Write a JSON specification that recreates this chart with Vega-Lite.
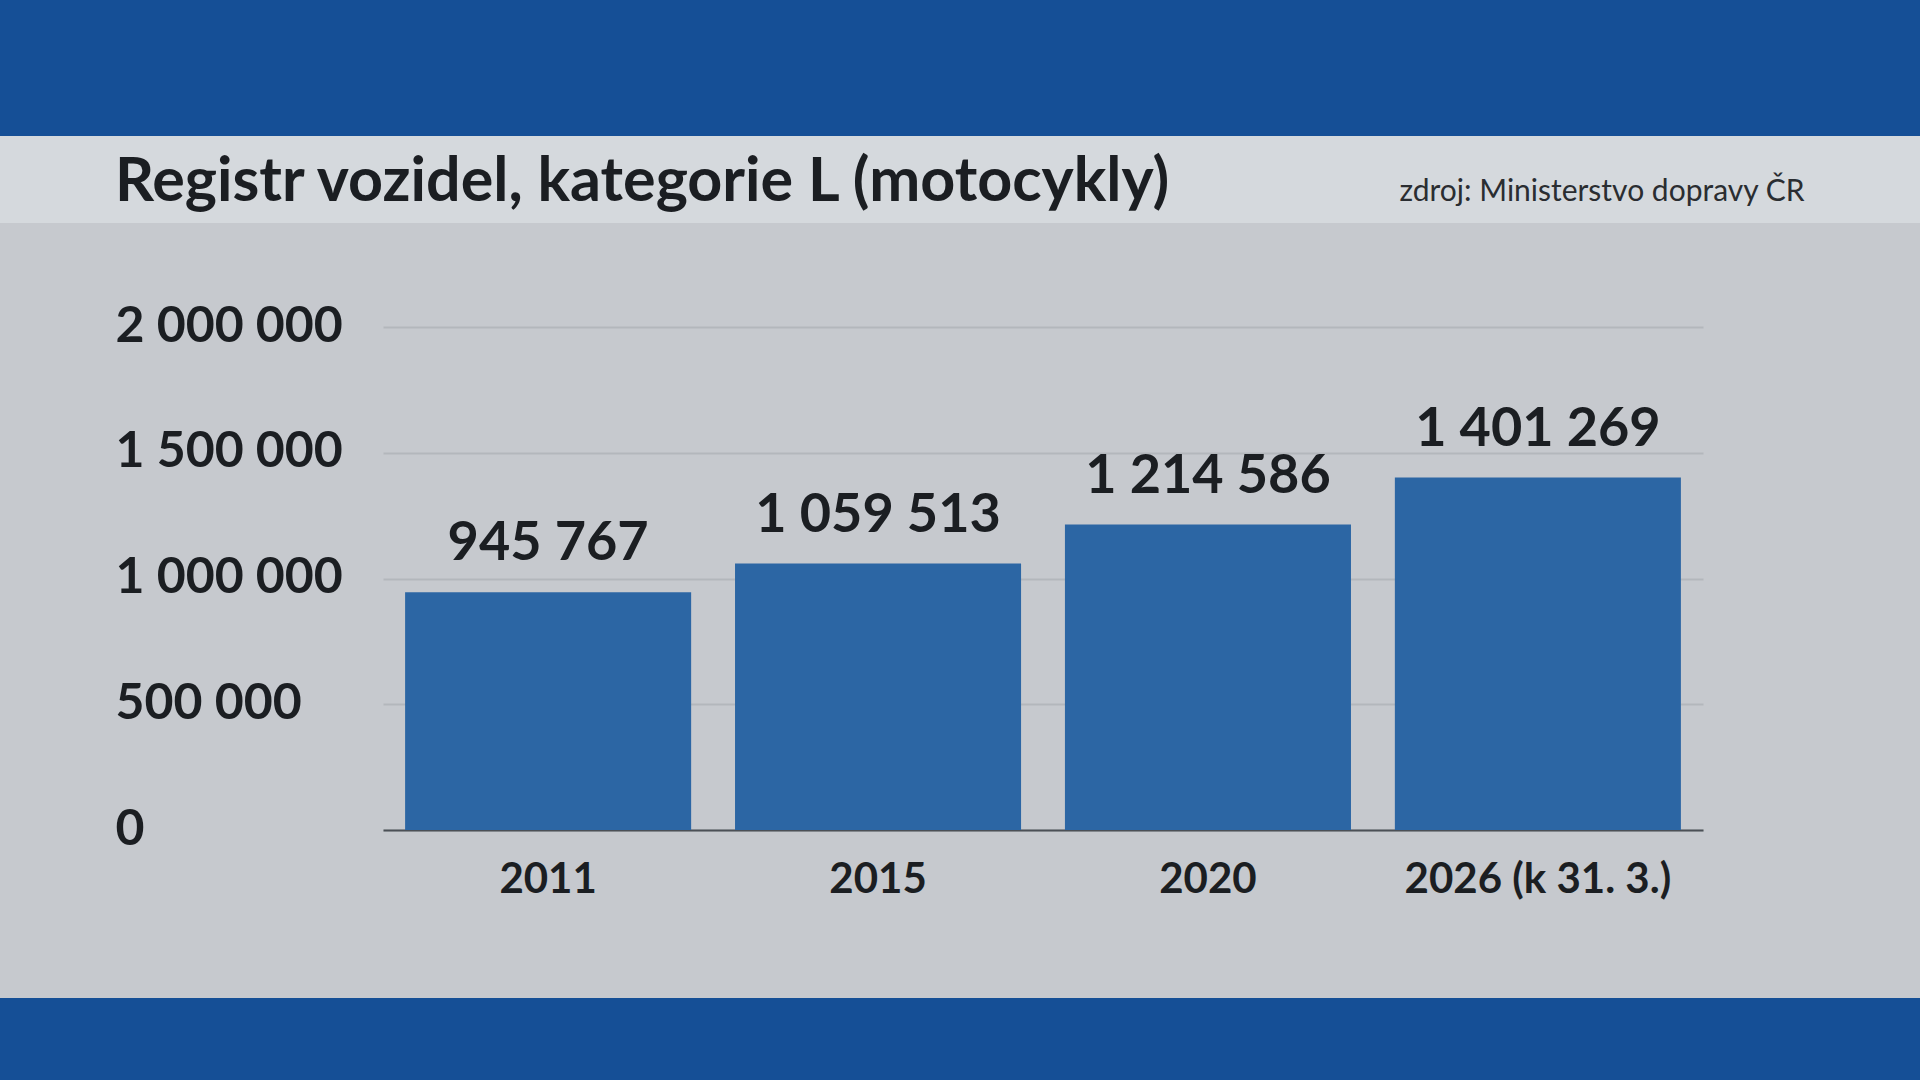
{
  "$schema": "https://vega.github.io/schema/vega-lite/v6.json",
  "background": "#c6c9ce",
  "padding": 0,
  "spacing": 0,
  "bounds": "flush",
  "config": {
    "view": {"stroke": null},
    "locale": {"number": {"decimal": ",", "thousands": " ", "grouping": [3], "currency": ["", " Kč"]}},
    "font": "Lato"
  },
  "vconcat": [
    {
      "width": 1920, "height": 136,
      "view": {"fill": "#154f96", "stroke": null},
      "data": {"values": []},
      "mark": {"type": "point", "opacity": 0}
    },
    {
      "width": 1920, "height": 87,
      "view": {"fill": "#d5d9dd", "stroke": null},
      "title": {"text": "Registr vozidel, kategorie L (motocykly)", "orient": "top", "anchor": "start", "frame": "group", "offset": -126, "baseline": "alphabetic", "dx": 115, "font": "Lato", "fontSize": 61, "fontWeight": "bold", "color": "#1b1e22"},
      "data": {"values": []},
      "mark": {"type": "point", "opacity": 0}
    },
    {
      "width": 1920, "height": 104,
      "data": {"values": []},
      "mark": {"type": "point", "opacity": 0}
    },
    {
      "width": 1920, "height": 503,
      "data": {"values": [
        {"rok": "2011", "pocet": 945767},
        {"rok": "2015", "pocet": 1059513},
        {"rok": "2020", "pocet": 1214586},
        {"rok": "2026 (k 31. 3.)", "pocet": 1401269}
      ]},
      "encoding": {
        "x": {
          "field": "rok", "type": "nominal", "sort": null,
          "scale": {"range": [383, 1703], "paddingInner": 0.133, "paddingOuter": 0.067},
          "axis": {
            "title": "zdroj: Ministerstvo dopravy ČR",
            "titleX": 1804, "titleY": -630, "titleAlign": "right", "titleBaseline": "alphabetic",
            "titleFont": "Lato", "titleFontSize": 30, "titleFontWeight": "normal", "titleColor": "#2a2d31",
            "labelAngle": 0, "ticks": false, "tickSize": 0,
            "labelPadding": 62, "labelBaseline": "alphabetic", "labelLimit": 0,
            "labelFont": "Lato", "labelFontSize": 42, "labelFontWeight": "bold", "labelColor": "#1b1e22",
            "domain": true, "domainColor": "#4b5056", "domainWidth": 2, "grid": false
          }
        },
        "y": {
          "field": "pocet", "type": "quantitative",
          "scale": {"domain": [0, 2000000], "nice": false},
          "axis": {
            "title": null, "values": [0, 500000, 1000000, 1500000, 2000000], "format": ",d",
            "offset": -383,
            "ticks": false, "tickSize": 0, "domain": false,
            "labelAlign": "left", "labelPadding": 268, "labelBaseline": "alphabetic", "labelOffset": 14, "labelLimit": 0,
            "labelFont": "Lato", "labelFontSize": 50, "labelFontWeight": "bold", "labelColor": "#1b1e22",
            "grid": true, "gridColor": "#b3b7bc", "gridWidth": 2
          }
        }
      },
      "layer": [
        {"mark": {"type": "bar", "color": "#2c66a4"}},
        {
          "mark": {"type": "text", "baseline": "alphabetic", "dy": -32, "font": "Lato", "fontSize": 54, "fontWeight": "bold", "color": "#1b1e22"},
          "encoding": {"text": {"field": "pocet", "type": "quantitative", "format": ",d"}}
        }
      ]
    },
    {
      "width": 1920, "height": 168,
      "data": {"values": []},
      "mark": {"type": "point", "opacity": 0}
    },
    {
      "width": 1920, "height": 82,
      "view": {"fill": "#154f96", "stroke": null},
      "data": {"values": []},
      "mark": {"type": "point", "opacity": 0}
    }
  ]
}
